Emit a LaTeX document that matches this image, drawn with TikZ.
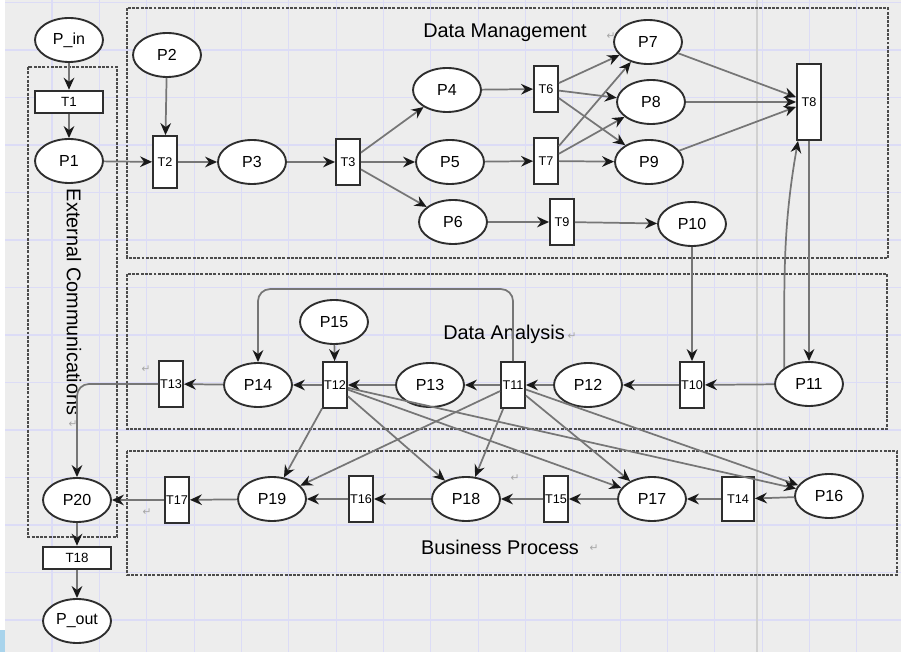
\documentclass[tikz,border=0pt]{standalone}
\usepackage{fontspec}
\setmainfont{Liberation Sans}
\newfontfamily\markfont{DejaVu Sans}
\usetikzlibrary{shapes.geometric, arrows.meta, calc}
\definecolor{bggray}{HTML}{EDEDED}
\definecolor{gridblue}{HTML}{DCDCF6}
\definecolor{arcgray}{HTML}{767676}
\definecolor{edgegray}{HTML}{2E2E2E}
\definecolor{tabblue}{HTML}{A9D4EC}
\tikzset{place/.style={ellipse, draw=edgegray, line width=1.4pt, fill=white, minimum width=51pt, minimum height=33pt, inner sep=0pt, font=\fontsize{12}{12}\selectfont},
	trans/.style={rectangle, draw=edgegray, line width=1.4pt, fill=white, minimum width=18pt, minimum height=34.5pt, inner sep=0pt, font=\fontsize{9.5}{9.5}\selectfont},
	htrans/.style={trans, minimum width=51pt, minimum height=17pt, font=\fontsize{10}{10}\selectfont},
	arc/.style={draw=arcgray, line width=1.3pt, -{Stealth[length=9pt, width=8pt, inset=3pt, color=black!90]}},
	area/.style={draw=black!70, line width=1.1pt, dash pattern=on 2.2pt off 1pt},
	title/.style={font=\fontsize{14.9}{15}\selectfont, inner sep=0pt},
	pmark/.style={font=\markfont\fontsize{8}{8}\selectfont, text=black!35, inner sep=0pt}}

\begin{document}
\begin{tikzpicture}[x=.75pt, y=-.75pt]
\newcommand{\gstep}{47.35}
	%Hintergrund
	\useasboundingbox (0,0) rectangle (901,652);
	\fill[white] (0,0) rectangle (901,652);
	\fill[bggray] (5,0) rectangle (901,652);
	\foreach \i in {0,...,17} {
		\draw[gridblue, line width=.8pt] ({52+\gstep*\i},0) -- ++(0,652);
	}
	\foreach \j in {0,...,13} {
		\draw[gridblue, line width=.8pt] (5,{620-47.5*\j}) -- (901,{620-47.5*\j});
	}
	\draw[black!18, line width=1.5pt] (757,0) -- (757,652);
	\fill[tabblue] (0,630) rectangle (5,652);
	%Bereiche
	\draw[area] (127,8) rectangle (888,258);
	\draw[area] (127,274) rectangle (887,429);
	\draw[area] (127,451) rectangle (897,575);
	\draw[area] (28,67) rectangle (117,537);
	\node[title] (dmtitle) at (505,33) {Data Management};
	\node[title] (datitle) at (504,334) {Data Analysis};
	\node[title] (bptitle) at (500,547) {Business Process};
	\node[title, rotate=-90] (ectitle) at (74,302) {External Communications};
	%Absatzmarken
	\node[pmark] (m1) at (150,69) {↵};
	\node[pmark] (m2) at (611,36) {↵};
	\node[pmark] (m3) at (572,336) {↵};
	\node[pmark] (m4) at (146,369) {↵};
	\node[pmark] (m5) at (73,424) {↵};
	\node[pmark] (m6) at (147,512) {↵};
	\node[pmark] (m7) at (515,478) {↵};
	\node[pmark] (m8) at (594,548) {↵};
	%Stellen
	\node[place] (Pin) at (69,40) {P\_in};
	\node[place] (P1) at (69,161) {P1};
	\node[place] (P2) at (167,55) {P2};
	\node[place] (P3) at (252,162) {P3};
	\node[place] (P4) at (447,90) {P4};
	\node[place] (P5) at (450,162) {P5};
	\node[place] (P6) at (453,222) {P6};
	\node[place] (P7) at (648,42) {P7};
	\node[place] (P8) at (651,102) {P8};
	\node[place] (P9) at (649,162) {P9};
	\node[place] (P10) at (692,224) {P10};
	\node[place] (P11) at (809,384) {P11};
	\node[place] (P12) at (588,385) {P12};
	\node[place] (P13) at (430,385) {P13};
	\node[place] (P14) at (258,385) {P14};
	\node[place] (P15) at (334,322) {P15};
	\node[place] (P16) at (829,496) {P16};
	\node[place] (P17) at (652,499) {P17};
	\node[place] (P18) at (466,499) {P18};
	\node[place] (P19) at (272,499) {P19};
	\node[place] (P20) at (77,500) {P20};
	\node[place] (Pout) at (77,621) {P\_out};
	%Transitionen
	\node[htrans] (T1) at (69,102) {T1};
	\node[trans, minimum height=39pt] (T2) at (165,162) {T2};
	\node[trans] (T3) at (348,162) {T3};
	\node[trans] (T6) at (546,89) {T6};
	\node[trans] (T7) at (546,161) {T7};
	\node[trans, minimum height=57pt] (T8) at (809,102) {T8};
	\node[trans] (T9) at (562,222) {T9};
	\node[trans] (T10) at (692,385) {T10};
	\node[trans] (T11) at (513,385) {T11};
	\node[trans] (T12) at (335,385) {T12};
	\node[trans] (T13) at (171,384) {T13};
	\node[trans, minimum width=24pt, minimum height=33pt] (T14) at (738,499) {T14};
	\node[trans] (T15) at (556,499) {T15};
	\node[trans] (T16) at (361,499) {T16};
	\node[trans] (T17) at (177,500) {T17};
	\node[htrans] (T18) at (77,558) {T18};
	%Kanten Data Management
	\draw[arc] (Pin) -- (T1);
	\draw[arc] (T1) -- (P1);
	\draw[arc] (P1) -- (T2);
	\draw[arc] (P2) -- (T2);
	\draw[arc] (T2) -- (P3);
	\draw[arc] (P3) -- (T3);
	\foreach \p in {P4,P5,P6} {
		\draw[arc] (T3) -- (\p);
	}
	\draw[arc] (P4) -- (T6);
	\draw[arc] (P5) -- (T7);
	\draw[arc] (P6) -- (T9);
	\draw[arc] (T9) -- (P10);
	\foreach \t in {T6,T7} {
		\foreach \p in {P7,P8,P9} {
			\draw[arc] (\t) -- (\p);
		}
	}
	\foreach \p in {P7,P8,P9} {
		\draw[arc] (\p) -- (T8);
	}
	\draw[arc] (T8) -- (P11);
	\draw[arc] (P11.north west) to[out=90, in=-100] ($(T8.south)+(-11,0)$);
	%Kanten Data Analysis
	\draw[arc] (P10) -- (T10);
	\draw[arc] (P11) -- (T10);
	\draw[arc] (T10) -- (P12);
	\draw[arc] (P12) -- (T11);
	\draw[arc] (T11) -- (P13);
	\draw[arc] (P13) -- (T12);
	\draw[arc] (P15) -- (T12);
	\draw[arc] (T12) -- (P14);
	\draw[arc] (P14) -- (T13);
	\draw[arc, rounded corners=9] (T11.north) -- ++(0,-72) -| (P14.north);
	\draw[arc, rounded corners=9] (T13) -| (P20);
	\foreach \t in {T11,T12} {
		\foreach \p in {P16,P17,P18,P19} {
			\draw[arc] (\t) -- (\p);
		}
	}
	%Kanten Business Process
	\draw[arc] (P16) -- (T14);
	\draw[arc] (T14) -- (P17);
	\draw[arc] (P17) -- (T15);
	\draw[arc] (T15) -- (P18);
	\draw[arc] (P18) -- (T16);
	\draw[arc] (T16) -- (P19);
	\draw[arc] (P19) -- (T17);
	\draw[arc] (T17) -- (P20);
	\draw[arc] (P20) -- (T18);
	\draw[arc] (T18) -- (Pout);
\end{tikzpicture}
\end{document}
